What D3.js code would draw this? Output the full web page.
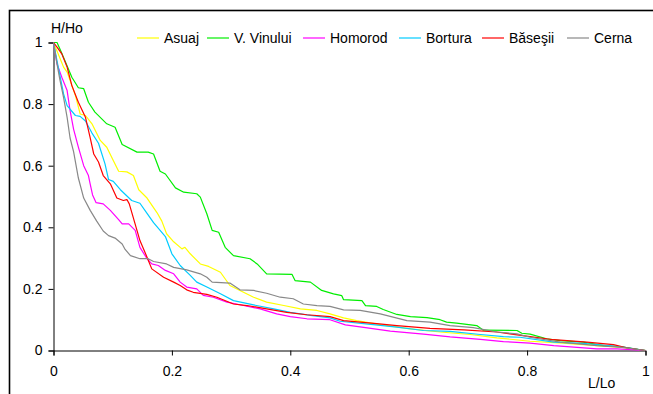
<!DOCTYPE html>
<html>
<head>
<meta charset="utf-8">
<script src="https://cdn.jsdelivr.net/npm/d3@7"></script>
<style>
  html, body { margin: 0; padding: 0; background: #fff; }
  svg { display: block; font-family: "Liberation Sans", Arial, sans-serif; }
</style>
</head>
<body>
<svg id="chart" width="653" height="394"></svg>
<script>
// Hypsometric curves (relative height vs relative length) for six rivers
const seriesNames = ["Asuaj", "V. Vinului", "Homorod", "Bortura", "Băseşii", "Cerna"];
const seriesColors = ["#ffff00", "#00ee00", "#ff00ff", "#00ccff", "#ff0000", "#888888"];

const asuaj = [[0,1],[0.008,0.963],[0.017,0.92],[0.023,0.904],[0.028,0.877],[0.037,0.828],[0.045,0.768],[0.054,0.763],[0.065,0.736],[0.079,0.682],[0.09,0.66],[0.101,0.617],[0.11,0.582],[0.124,0.58],[0.135,0.568],[0.144,0.522],[0.158,0.495],[0.175,0.447],[0.183,0.42],[0.191,0.379],[0.203,0.353],[0.217,0.33],[0.222,0.335],[0.231,0.314],[0.248,0.281],[0.262,0.273],[0.282,0.254],[0.298,0.211],[0.315,0.195],[0.338,0.173],[0.36,0.157],[0.389,0.146],[0.417,0.135],[0.445,0.13],[0.467,0.119],[0.49,0.106],[0.512,0.097],[0.552,0.084],[0.603,0.07],[0.653,0.06],[0.704,0.052],[0.749,0.041],[0.805,0.03],[0.86,0.024],[0.918,0.016],[0.96,0.01],[1,0]];

const vVinului = [[0,1],[0.006,1],[0.014,0.965],[0.031,0.887],[0.042,0.853],[0.051,0.85],[0.059,0.806],[0.07,0.774],[0.09,0.736],[0.104,0.725],[0.116,0.669],[0.141,0.644],[0.16,0.644],[0.169,0.638],[0.18,0.582],[0.189,0.573],[0.206,0.528],[0.22,0.514],[0.242,0.509],[0.248,0.498],[0.259,0.444],[0.268,0.39],[0.279,0.384],[0.29,0.335],[0.304,0.308],[0.332,0.298],[0.344,0.281],[0.36,0.249],[0.403,0.247],[0.408,0.227],[0.434,0.222],[0.453,0.195],[0.473,0.184],[0.487,0.178],[0.49,0.165],[0.521,0.162],[0.527,0.146],[0.546,0.143],[0.557,0.133],[0.58,0.117],[0.603,0.11],[0.631,0.107],[0.653,0.1],[0.664,0.092],[0.681,0.089],[0.715,0.081],[0.726,0.066],[0.783,0.065],[0.791,0.056],[0.805,0.053],[0.833,0.038],[0.856,0.032],[0.895,0.027],[0.929,0.016],[0.96,0.012],[1,0]];

const homorod = [[0,1],[0.006,0.93],[0.014,0.887],[0.023,0.844],[0.028,0.779],[0.034,0.718],[0.042,0.66],[0.051,0.6],[0.059,0.568],[0.062,0.54],[0.066,0.505],[0.072,0.48],[0.084,0.476],[0.096,0.455],[0.11,0.425],[0.116,0.411],[0.127,0.411],[0.138,0.39],[0.146,0.335],[0.158,0.298],[0.166,0.281],[0.177,0.276],[0.189,0.26],[0.203,0.249],[0.214,0.222],[0.225,0.206],[0.242,0.2],[0.253,0.179],[0.27,0.173],[0.293,0.157],[0.321,0.146],[0.349,0.135],[0.377,0.119],[0.4,0.11],[0.428,0.103],[0.467,0.1],[0.493,0.083],[0.524,0.075],[0.569,0.063],[0.625,0.053],[0.67,0.044],[0.721,0.036],[0.76,0.029],[0.805,0.024],[0.845,0.016],[0.918,0.005],[0.952,0.005],[1,0]];

const bortura = [[0,1],[0.008,0.92],[0.017,0.833],[0.023,0.795],[0.037,0.763],[0.045,0.76],[0.054,0.745],[0.065,0.706],[0.076,0.673],[0.087,0.606],[0.093,0.555],[0.101,0.549],[0.113,0.522],[0.132,0.487],[0.146,0.478],[0.158,0.445],[0.169,0.415],[0.189,0.37],[0.2,0.314],[0.214,0.276],[0.231,0.244],[0.242,0.222],[0.259,0.206],[0.282,0.184],[0.304,0.162],[0.338,0.148],[0.372,0.135],[0.4,0.124],[0.434,0.114],[0.467,0.106],[0.484,0.095],[0.54,0.084],[0.58,0.076],[0.625,0.065],[0.67,0.062],[0.721,0.052],[0.76,0.045],[0.788,0.043],[0.845,0.027],[0.901,0.022],[0.957,0.013],[1,0]];

const baseshii = [[0,1],[0.006,0.985],[0.014,0.963],[0.023,0.92],[0.031,0.86],[0.042,0.806],[0.054,0.757],[0.062,0.69],[0.068,0.638],[0.076,0.612],[0.084,0.568],[0.096,0.541],[0.107,0.495],[0.118,0.487],[0.124,0.49],[0.128,0.476],[0.135,0.43],[0.146,0.357],[0.158,0.303],[0.166,0.265],[0.186,0.238],[0.203,0.222],[0.214,0.211],[0.225,0.197],[0.236,0.189],[0.259,0.182],[0.276,0.173],[0.304,0.151],[0.327,0.146],[0.36,0.135],[0.394,0.124],[0.428,0.116],[0.467,0.11],[0.49,0.097],[0.546,0.087],[0.58,0.081],[0.636,0.072],[0.693,0.067],[0.749,0.06],[0.805,0.045],[0.845,0.035],[0.901,0.027],[0.946,0.019],[0.968,0.009],[1,0]];

const cerna = [[0,1],[0.006,0.93],[0.011,0.877],[0.017,0.822],[0.023,0.757],[0.028,0.69],[0.034,0.645],[0.042,0.56],[0.051,0.495],[0.062,0.455],[0.073,0.42],[0.084,0.388],[0.093,0.373],[0.104,0.365],[0.116,0.346],[0.121,0.328],[0.13,0.308],[0.146,0.298],[0.16,0.298],[0.169,0.289],[0.191,0.281],[0.203,0.27],[0.225,0.262],[0.248,0.249],[0.259,0.238],[0.268,0.222],[0.298,0.219],[0.315,0.197],[0.338,0.195],[0.36,0.186],[0.383,0.173],[0.405,0.168],[0.422,0.151],[0.445,0.146],[0.467,0.143],[0.49,0.132],[0.518,0.13],[0.552,0.119],[0.597,0.097],[0.636,0.092],[0.67,0.081],[0.709,0.074],[0.749,0.06],[0.783,0.054],[0.805,0.043],[0.856,0.027],[0.918,0.016],[0.957,0.011],[1,0]];

const seriesData = [asuaj, vVinului, homorod, bortura, baseshii, cerna];

const xTicks = [0, 0.2, 0.4, 0.6, 0.8, 1];
const yTicks = [0, 0.2, 0.4, 0.6, 0.8, 1];
const xTickLabels = ["0", "0.2", "0.4", "0.6", "0.8", "1"];
const yTickLabels = ["0", "0.2", "0.4", "0.6", "0.8", "1"];
const xTitle = "L/Lo";
const yTitle = "H/Ho";

const FONT = 14;
const svg = d3.select("#chart");

// Outer chart frame (continues past the right and bottom edges)
svg.append("rect")
  .attr("x", 9.5).attr("y", 10.5)
  .attr("width", 700).attr("height", 420)
  .attr("fill", "none").attr("stroke", "#000").attr("stroke-width", 1.6);

const x = d3.scaleLinear().domain([0, 1]).range([53.5, 645.5]);
const y = d3.scaleLinear().domain([0, 1]).range([350.5, 42.5]);

// Axes
const xAxis = d3.axisBottom(x).tickValues(xTicks)
  .tickFormat((d, i) => xTickLabels[i]).tickSizeOuter(0).tickSize(5).tickPadding(11);
const yAxis = d3.axisLeft(y).tickValues(yTicks)
  .tickFormat((d, i) => yTickLabels[i]).tickSizeOuter(0).tickSize(5).tickPadding(6);

const gx = svg.append("g").attr("transform", `translate(0,${y(0)})`).call(xAxis);
const gy = svg.append("g").attr("transform", `translate(${x(0)},0)`).call(yAxis);
[gx, gy].forEach(g => {
  g.selectAll("text").attr("font-size", FONT).attr("fill", "#000")
    .attr("font-family", "'Liberation Sans', Arial, sans-serif");
  g.selectAll("line").attr("stroke", "#000");
  g.select(".domain").attr("stroke", "#000");
});

// Axis titles
svg.append("text").attr("x", 51).attr("y", 33)
  .attr("font-size", FONT).attr("fill", "#000").text(yTitle);
svg.append("text").attr("x", 588).attr("y", 388)
  .attr("font-size", FONT).attr("fill", "#000").text(xTitle);

// Curves
const line = d3.line().x(d => x(d[0])).y(d => y(d[1])).curve(d3.curveLinear);
svg.append("g").selectAll("path")
  .data(seriesData)
  .join("path")
  .attr("d", line)
  .attr("fill", "none")
  .attr("stroke", (d, i) => seriesColors[i])
  .attr("stroke-width", 1.2)
  .attr("stroke-linejoin", "round");

// Legend across the top
const legendX = [137, 207, 303, 399, 482, 567];
const legend = svg.append("g");
seriesNames.forEach((name, i) => {
  const g = legend.append("g").attr("transform", `translate(${legendX[i]},38)`);
  g.append("line").attr("x1", 0).attr("x2", 22).attr("y1", 0).attr("y2", 0)
    .attr("stroke", seriesColors[i]).attr("stroke-width", 1.2);
  g.append("text").attr("x", 27).attr("y", 5)
    .attr("font-size", FONT).attr("fill", "#000").text(name);
});
</script>
</body>
</html>
